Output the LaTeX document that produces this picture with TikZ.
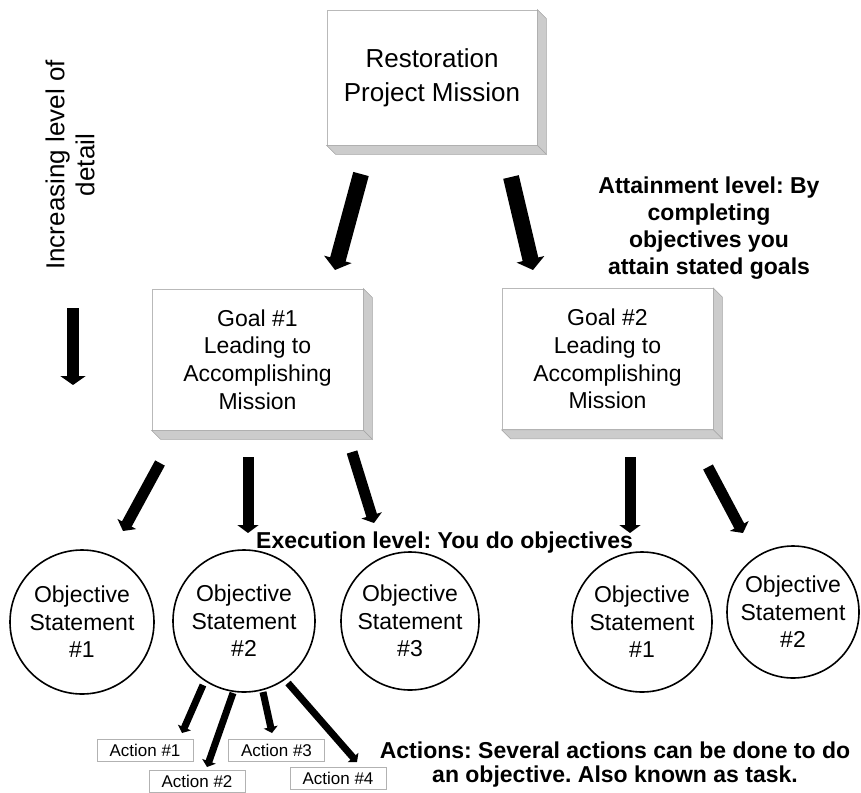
\documentclass[tikz,border=0pt]{standalone}
\usepackage{fontspec}
\setmainfont{Liberation Sans}
\usetikzlibrary{arrows.meta,calc}
\frenchspacing
\tikzset{
  box/.style={draw=gray!55, line width=0.8pt, fill=white, inner sep=0pt, align=center},
  face/.style={fill=gray!40, draw=gray!70, line width=0.6pt},
  obj/.style={draw=black, line width=1.6pt, circle, inner sep=0pt, align=center,
    font=\fontsize{23}{27.5}\selectfont},
  act/.style={draw=gray!60, line width=0.8pt, minimum width=96pt, minimum height=22pt,
    inner sep=0pt, font=\fontsize{17}{18}\selectfont},
  bigarrow/.style={line width=16pt, -{Triangle[width=28pt,length=11pt]}},
  midarrow/.style={line width=11pt, -{Triangle[width=21pt,length=8pt]}},
  smallarrow/.style={line width=7pt, -{Triangle[width=14pt,length=6pt]}},
  note/.style={font=\fontsize{23}{27}\selectfont\bfseries, align=center, inner sep=0pt},
}
\newcommand\depthfaces[1]{%
  \path[face] (#1.north east) -- ++(9,9) -- ($(#1.south east)+(9,9)$) -- (#1.south east) -- cycle;
  \path[face] (#1.south west) -- ++(9,9) -- ($(#1.south east)+(9,9)$) -- (#1.south east) -- cycle;
}
\begin{document}
\begin{tikzpicture}[x=1pt,y=-1pt]
\useasboundingbox (0,0) rectangle (861,792);

% boxes
\node[box, minimum width=210pt, minimum height=135pt, font=\fontsize{26}{34}\selectfont]
  (mission) at (432,77.5) {Restoration\\Project Mission};
\depthfaces{mission}
\node[box, minimum width=211pt, minimum height=141pt, font=\fontsize{23}{27.7}\selectfont]
  (goal1) at (257.5,359.5) {Goal \#1\\Leading to\\Accomplishing\\Mission};
\depthfaces{goal1}
\node[box, minimum width=211pt, minimum height=141pt, font=\fontsize{23}{27.7}\selectfont]
  (goal2) at (607.5,359) {Goal \#2\\Leading to\\Accomplishing\\Mission};
\depthfaces{goal2}

% objectives
\node[obj, minimum size=144pt] (o1) at (82,622) {Objective\\Statement\\\#1};
\node[obj, minimum size=142pt] (o2) at (244,621) {Objective\\Statement\\\#2};
\node[obj, minimum size=138pt] (o3) at (410,621) {Objective\\Statement\\\#3};
\node[obj, minimum size=140pt] (o4) at (642,622) {Objective\\Statement\\\#1};
\node[obj, minimum size=132pt] (o5) at (793,612) {Objective\\Statement\\\#2};

% actions
\node[act] (a1) at (145,750) {Action \#1};
\node[act] (a2) at (197,781) {Action \#2};
\node[act] (a3) at (276.5,750) {Action \#3};
\node[act] (a4) at (338,778.5) {Action \#4};

% annotations
\node[font=\fontsize{26}{30}\selectfont, align=center, rotate=90, inner sep=0pt]
  (detail) at (70,165) {Increasing level of\\detail};
\node[note] (attain) at (709,228) {Attainment level: By\\completing\\objectives you\\attain stated goals};
\node[note, anchor=west] (exec) at (256,543) {Execution level: You do objectives};
\node[note, font=\fontsize{23}{24}\selectfont\bfseries] (actions) at (615,765)
  {Actions: Several actions can be done to do\\an objective. Also known as task.};

% arrow end points
\coordinate (m1s) at (361,174); \coordinate (m1e) at (335,270);
\coordinate (m2s) at (511,177); \coordinate (m2e) at (533,270);
\coordinate (g1as) at (160,463); \coordinate (g1ae) at (123,531);
\coordinate (g1bs) at (248,457); \coordinate (g1be) at (248,533);
\coordinate (g1cs) at (352,452); \coordinate (g1ce) at (374,523);
\coordinate (g2as) at (630,457); \coordinate (g2ae) at (630,533);
\coordinate (g2bs) at (708,467); \coordinate (g2be) at (743,533);
\coordinate (ds) at (73,308); \coordinate (de) at (73,385);
\coordinate (a1s) at (203,685); \coordinate (a1e) at (182,733);
\coordinate (a2s) at (233,693); \coordinate (a2e) at (207,767);
\coordinate (a3s) at (263,692); \coordinate (a3e) at (272,733);
\coordinate (a4s) at (288,683); \coordinate (a4e) at (357,762);

\draw[bigarrow] (m1s) -- (m1e);
\draw[bigarrow] (m2s) -- (m2e);
\draw[midarrow] (g1as) -- (g1ae);
\draw[midarrow] (g1bs) -- (g1be);
\draw[midarrow] (g1cs) -- (g1ce);
\draw[midarrow] (g2as) -- (g2ae);
\draw[midarrow] (g2bs) -- (g2be);
\draw[line width=12pt, -{Triangle[width=25pt,length=9pt]}] (ds) -- (de);
\draw[smallarrow] (a1s) -- (a1e);
\draw[smallarrow] (a2s) -- (a2e);
\draw[smallarrow] (a3s) -- (a3e);
\draw[smallarrow] (a4s) -- (a4e);
\end{tikzpicture}
\end{document}
